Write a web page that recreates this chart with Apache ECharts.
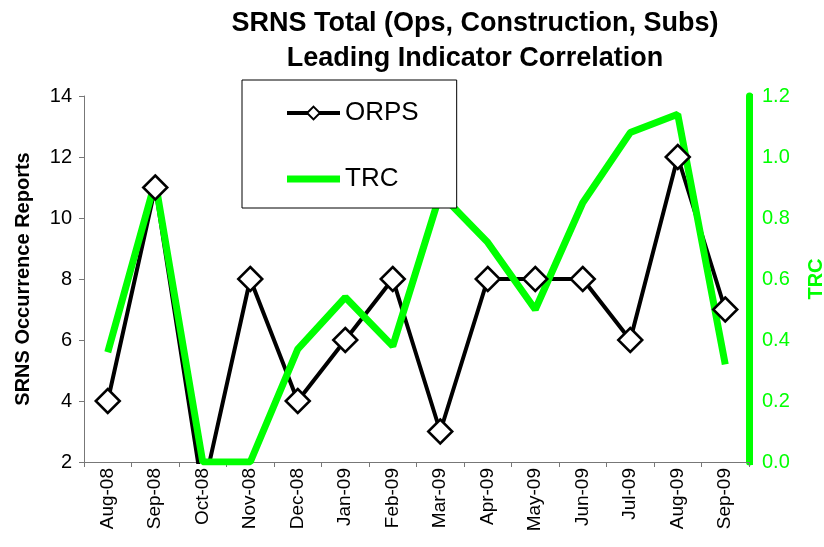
<!DOCTYPE html>
<html>
<head>
<meta charset="utf-8">
<title>SRNS Leading Indicator Correlation</title>
<script src="https://cdn.jsdelivr.net/npm/echarts@6/dist/echarts.min.js"></script>
<style>
    html, body { margin: 0; padding: 0; background: #fff; }
    #container { width: 824px; height: 547px; }
</style>
</head>
<body>
<div id="container"></div>
<script>
// chart data
var months = ['Aug-08', 'Sep-08', 'Oct-08', 'Nov-08', 'Dec-08', 'Jan-09', 'Feb-09',
    'Mar-09', 'Apr-09', 'May-09', 'Jun-09', 'Jul-09', 'Aug-09', 'Sep-09'];
var orps = [4, 11, 1, 8, 4, 6, 8, 3, 8, 8, 8, 6, 12, 7];
var trc = [0.36, 0.92, 0, 0, 0.37, 0.54, 0.38, 0.88, 0.72, 0.50, 0.85, 1.08, 1.14, 0.32];

var FONT = '"Liberation Sans", Arial, sans-serif';
var GREEN = '#00ff00';

var dom = document.getElementById("container");
var myChart = echarts.init(dom);
var option = {
    animation: false,
    textStyle: { fontFamily: FONT },
    title: {
        text: 'SRNS Total (Ops, Construction, Subs)\nLeading Indicator Correlation',
        left: 470,
        top: 1,
        textAlign: 'center',
        textStyle: {
            fontFamily: FONT,
            fontSize: 27,
            fontWeight: 'bold',
            color: '#000',
            lineHeight: 35
        }
    },
    legend: {
        orient: 'vertical',
        left: 242,
        top: 80,
        padding: [20, 38, 16, 43],
        itemGap: 40,
        itemWidth: 53,
        itemHeight: 16,
        backgroundColor: '#fff',
        borderColor: '#000',
        borderWidth: 1,
        lineStyle: { width: 'inherit' },
        textStyle: { fontFamily: FONT, fontSize: 26, color: '#000' },
        data: [
            { name: 'ORPS' },
            { name: 'TRC', icon: 'path://M0,0 L53,0 L53,7 L0,7 Z' }
        ]
    },
    grid: { left: 84, right: 75, top: 96, bottom: 85, outerBoundsMode: 'none' },
    xAxis: {
        type: 'category',
        data: months,
        axisLine: { lineStyle: { color: '#777', width: 1 } },
        axisTick: { show: true, length: 5, lineStyle: { color: '#777' } },
        axisLabel: {
            rotate: 90,
            interval: 0,
            margin: 6,
            color: '#000',
            fontFamily: FONT,
            fontSize: 19
        }
    },
    yAxis: [
        {
            type: 'value',
            min: 2,
            max: 14,
            interval: 2,
            name: 'SRNS Occurrence Reports',
            nameLocation: 'middle',
            nameRotate: 90,
            nameGap: 51,
            nameTextStyle: { fontFamily: FONT, fontSize: 20, fontWeight: 'bold', color: '#000' },
            axisLine: { show: true, lineStyle: { color: '#777', width: 1 } },
            axisTick: { show: true, length: 5, lineStyle: { color: '#777' } },
            axisLabel: { margin: 12, color: '#000', fontFamily: FONT, fontSize: 20 },
            splitLine: { show: false }
        },
        {
            type: 'value',
            min: 0,
            max: 1.2,
            interval: 0.2,
            position: 'right',
            name: 'TRC',
            nameLocation: 'middle',
            nameRotate: 90,
            nameGap: 57,
            nameTextStyle: { fontFamily: FONT, fontSize: 20, fontWeight: 'bold', color: GREEN },
            axisLine: { show: true, lineStyle: { color: GREEN, width: 7 } },
            axisTick: { show: true, inside: false, length: 4, lineStyle: { color: GREEN, width: 5 } },
            axisLabel: {
                margin: 13,
                color: GREEN,
                fontFamily: FONT,
                fontSize: 20,
                formatter: function (v) { return v.toFixed(1); }
            },
            splitLine: { show: false }
        }
    ],
    series: [
        {
            name: 'ORPS',
            type: 'line',
            yAxisIndex: 0,
            data: orps,
            symbol: 'diamond',
            symbolSize: 24,
            showAllSymbol: true,
            lineStyle: { color: '#000', width: 4 },
            itemStyle: { color: '#fff', borderColor: '#000', borderWidth: 2.5 }
        },
        {
            name: 'TRC',
            type: 'line',
            yAxisIndex: 1,
            data: trc,
            symbol: 'none',
            lineStyle: { color: GREEN, width: 7 },
            itemStyle: { color: GREEN }
        }
    ]
};
myChart.setOption(option);
</script>
</body>
</html>
